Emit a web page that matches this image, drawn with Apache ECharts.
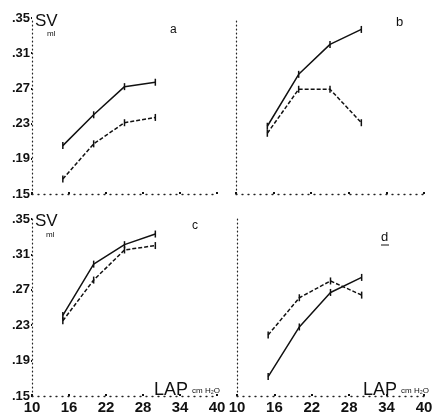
<!DOCTYPE html>
<html>
<head>
    <meta charset="utf-8" />
    <title>SV vs LAP</title>
    <script src="https://cdn.jsdelivr.net/npm/echarts@6/dist/echarts.min.js"></script>
</head>
<body style="margin:0;padding:0;background:#fff;">
    <div id="main" style="width:436px;height:417px;"></div>
    <script type="text/javascript">
        // data
        var lapValues = [15, 20, 25, 30];
        var xTicks = [10, 16, 22, 28, 34, 40];
        var yTicks = ['.15', '.19', '.23', '.27', '.31', '.35'];

        var aSolid = [0.205, 0.240, 0.272, 0.277];
        var aDashed = [0.167, 0.207, 0.231, 0.237];
        var bSolid = [0.227, 0.286, 0.320, 0.337];
        var bDashed = [0.219, 0.269, 0.269, 0.231];
        var cSolid = [0.241, 0.299, 0.321, 0.333];
        var cDashed = [0.235, 0.281, 0.315, 0.320];
        var dSolid = [0.172, 0.228, 0.267, 0.284];
        var dDashed = [0.219, 0.261, 0.280, 0.264];

        var panels = [
            { solid: aSolid, dashed: aDashed, xLabels: false, yLabels: true },
            { solid: bSolid, dashed: bDashed, xLabels: false, yLabels: false },
            { solid: cSolid, dashed: cDashed, xLabels: true, yLabels: true },
            { solid: dSolid, dashed: dDashed, xLabels: true, yLabels: false }
        ];

        var grids = [
            { left: 32, top: 18, width: 185, height: 176 },
            { left: 236, top: 18, width: 188, height: 176 },
            { left: 32, top: 219, width: 185, height: 177 },
            { left: 237, top: 219, width: 187, height: 177 }
        ];

        var fontName = '"Liberation Sans", Arial, sans-serif';

        function pairs(arr) {
            var out = [];
            for (var i = 0; i < arr.length; i++) out.push([lapValues[i], arr[i]]);
            return out;
        }

        var xAxes = [], yAxes = [], series = [];
        for (var p = 0; p < panels.length; p++) {
            xAxes.push({
                type: 'value', gridIndex: p, min: 10, max: 40, interval: 6,
                splitLine: { show: false },
                axisLine: { lineStyle: { color: '#222', type: [1, 5], width: 1.3 } },
                axisTick: { show: true, inside: true, length: 2, lineStyle: { color: '#111', width: 2 } },
                axisLabel: {
                    show: panels[p].xLabels, color: '#111', fontSize: 15, fontWeight: 'bold', fontFamily: fontName, margin: 4,
                    formatter: function (v) { return xTicks.indexOf(v) >= 0 ? String(v) : ''; }
                }
            });
            yAxes.push({
                type: 'value', gridIndex: p, min: 0.15, max: 0.35, interval: 0.04,
                splitLine: { show: false },
                axisLine: { show: true, lineStyle: { color: '#222', type: [1, 3], width: 1.2 } },
                axisTick: { show: panels[p].yLabels, inside: false, length: 1, lineStyle: { color: '#111', width: 2 } },
                axisLabel: {
                    show: panels[p].yLabels, color: '#111', fontSize: 13, fontWeight: 'bold', fontFamily: fontName, margin: 2,
                    formatter: function (v) {
                        var i = Math.round((v - 0.15) / 0.04);
                        return yTicks[i] || '';
                    }
                }
            });
            series.push({
                type: 'line', xAxisIndex: p, yAxisIndex: p, data: pairs(panels[p].solid),
                symbol: 'rect', symbolSize: [1.5, 7], showSymbol: true,
                itemStyle: { color: '#111' },
                lineStyle: { color: '#111', width: 1.5, type: 'solid' },
                animation: false, silent: true
            });
            series.push({
                type: 'line', xAxisIndex: p, yAxisIndex: p, data: pairs(panels[p].dashed),
                symbol: 'rect', symbolSize: [1.5, 7], showSymbol: true,
                itemStyle: { color: '#111' },
                lineStyle: { color: '#111', width: 1.5, type: [4, 2] },
                animation: false, silent: true
            });
        }

        function txt(x, y, s, size, extra) {
            var st = { text: s, fill: '#111', font: (size) + 'px ' + fontName };
            if (extra) for (var k in extra) st[k] = extra[k];
            return { type: 'text', left: x, top: y, style: st };
        }

        var graphics = [
            txt(35, 13, 'SV', 17), txt(47, 30, 'ml', 8),
            txt(35, 213, 'SV', 17), txt(46, 231, 'ml', 8),
            txt(170, 24, 'a', 12), txt(396, 16, 'b', 13),
            txt(192, 220, 'c', 12), txt(381, 231, 'd', 13),
            { type: 'line', shape: { x1: 381, y1: 245, x2: 389, y2: 245 }, style: { stroke: '#111', lineWidth: 1 } },
            txt(154, 381, 'LAP', 18), txt(192, 387, 'cm H\u2082O', 8),
            txt(363, 381, 'LAP', 18), txt(401, 387, 'cm H\u2082O', 8)
        ];

        var chart = echarts.init(document.getElementById('main'));
        chart.setOption({
            backgroundColor: '#fff',
            animation: false,
            grid: grids,
            xAxis: xAxes,
            yAxis: yAxes,
            series: series,
            graphic: graphics
        });
    </script>
</body>
</html>
